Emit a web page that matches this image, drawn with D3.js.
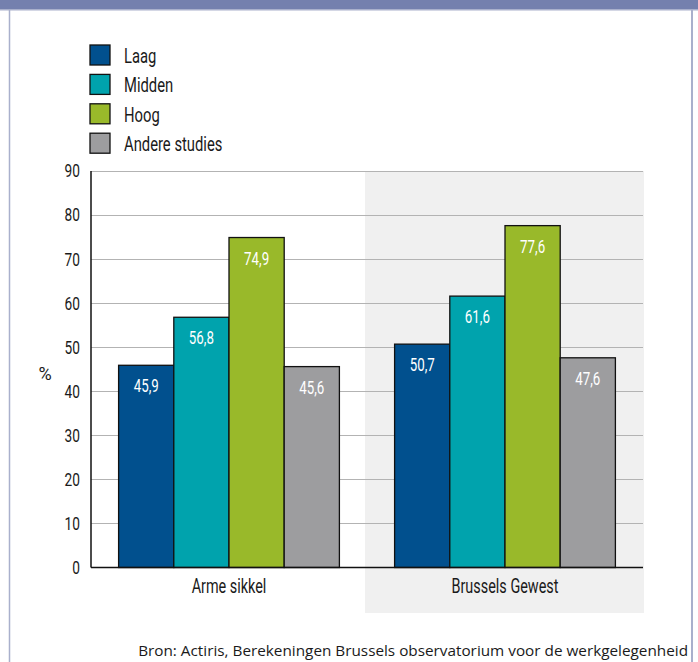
<!DOCTYPE html>
<html>
<head>
<meta charset="utf-8">
<script src="https://cdn.jsdelivr.net/npm/d3@7"></script>
<style>
  html, body { margin: 0; padding: 0; background: #fff; }
  svg { display: block; }
</style>
</head>
<body>
<script>
const categories = ["Arme sikkel", "Brussels Gewest"];
const seriesNames = ["Laag", "Midden", "Hoog", "Andere studies"];
const seriesColors = ["#01508e", "#00a3ad", "#99b92a", "#9d9d9f"];
const laag = [45.9, 50.7];
const midden = [56.8, 61.6];
const hoog = [74.9, 77.6];
const andere = [45.6, 47.6];
const yTicks = [0, 10, 20, 30, 40, 50, 60, 70, 80, 90];
const yLabel = "%";
const source = "Bron: Actiris, Berekeningen Brussels observatorium voor de werkgelegenheid";

(function () {
const seriesValues = [laag, midden, hoog, andere];
const W = 698, H = 662;
const FONT = "Roboto, 'Liberation Sans', sans-serif";
const SX = 0.74; // horizontal squeeze to mimic a condensed face

function squeeze(sel, sx) {
  const k = sx || SX;
  sel.each(function () {
    const t = d3.select(this);
    const x = +t.attr("x") || 0, yy = +t.attr("y") || 0;
    t.attr("x", null).attr("y", null)
      .attr("transform", `translate(${x},${yy}) scale(${k},1)`);
  });
}

const svg = d3.select("body").append("svg").attr("width", W).attr("height", H);

// frame
svg.append("rect").attr("x", 0).attr("y", 0).attr("width", W).attr("height", 9).attr("fill", "#7480ae");
svg.append("rect").attr("x", 0).attr("y", 9).attr("width", W).attr("height", 1.5).attr("fill", "#a9b0cc");
svg.append("line").attr("x1", 9.5).attr("x2", 9.5).attr("y1", 9).attr("y2", H).attr("stroke", "#a9b0cc").attr("stroke-width", 1.5);
svg.append("line").attr("x1", 692).attr("x2", 692).attr("y1", 9).attr("y2", H).attr("stroke", "#a9b0cc").attr("stroke-width", 2);

const pL = 91, pR = 643, pT = 171, pB = 567.5;
const y = d3.scaleLinear().domain([0, 90]).range([pB, pT]);
const x0 = d3.scaleBand().domain(categories).range([pL, pR]).padding(0);
const x1 = d3.scaleBand().domain(seriesNames)
  .range([x0.bandwidth() * 0.1, x0.bandwidth() * 0.9]).padding(0);

// shaded second category
svg.append("rect")
  .attr("x", x0(categories[1]) - 2).attr("y", pT)
  .attr("width", x0.bandwidth() + 3).attr("height", 613 - pT)
  .attr("fill", "#f0f0f0");

// gridlines
svg.append("g").selectAll("line").data(yTicks.filter(d => d > 0)).join("line")
  .attr("x1", pL).attr("x2", pR)
  .attr("y1", d => Math.round(y(d)) + 0.5).attr("y2", d => Math.round(y(d)) + 0.5)
  .attr("stroke", "#b3b3b3").attr("stroke-width", 1.2);

// bars
const groups = svg.append("g").selectAll("g").data(categories).join("g")
  .attr("transform", c => `translate(${x0(c)},0)`);
groups.each(function(c, ci) {
  const g = d3.select(this);
  seriesNames.forEach((s, si) => {
    const v = seriesValues[si][ci];
    g.append("rect")
      .attr("x", x1(s)).attr("y", y(v))
      .attr("width", x1.bandwidth()).attr("height", y(0) - y(v))
      .attr("fill", seriesColors[si]).attr("stroke", "#111").attr("stroke-width", 1.3);
    g.append("text")
      .attr("x", x1(s) + x1.bandwidth() / 2).attr("y", y(v) + 27)
      .attr("text-anchor", "middle").attr("fill", "#fff")
      .attr("font-family", FONT).attr("font-size", 18)
      .text(String(v).replace(".", ","))
      .call(squeeze);
  });
});

// axes
const yAxis = d3.axisLeft(y).tickValues(yTicks).tickSize(0).tickPadding(11);
const ya = svg.append("g").attr("transform", `translate(${pL},0)`).call(yAxis);
ya.select(".domain").remove();
ya.selectAll("text").attr("font-family", FONT).attr("font-size", 18.5).attr("fill", "#1a1a1a").call(squeeze);
svg.append("line").attr("x1", pL).attr("x2", pL).attr("y1", pT).attr("y2", pB)
  .attr("stroke", "#111").attr("stroke-width", 1.5);

const xAxis = d3.axisBottom(x0).tickSize(0).tickPadding(12);
const xa = svg.append("g").attr("transform", `translate(0,${pB})`).call(xAxis);
xa.select(".domain").remove();
xa.selectAll("text").attr("font-family", FONT).attr("font-size", 19.5).attr("fill", "#1a1a1a").call(squeeze);
svg.append("line").attr("x1", pL).attr("x2", pR).attr("y1", pB).attr("y2", pB)
  .attr("stroke", "#111").attr("stroke-width", 1.5);

svg.append("text").attr("x", 45).attr("y", 380).attr("text-anchor", "middle")
  .attr("font-family", FONT).attr("font-size", 19).attr("fill", "#1a1a1a").text(yLabel)
  .call(squeeze, 0.95);

// legend
const lg = svg.append("g").selectAll("g").data(seriesNames).join("g")
  .attr("transform", (d, i) => `translate(90,${45 + i * 29.4})`);
lg.append("rect").attr("width", 20).attr("height", 20)
  .attr("fill", (d, i) => seriesColors[i]).attr("stroke", "#111").attr("stroke-width", 1.3);
lg.append("text").attr("x", 34).attr("y", 18)
  .attr("font-family", FONT).attr("font-size", 20).attr("fill", "#1a1a1a").text(d => d)
  .call(squeeze);

// source
svg.append("text").attr("x", 688).attr("y", 656).attr("text-anchor", "end")
  .attr("font-family", "'Open Sans', 'Noto Sans', sans-serif").attr("font-size", 15.3)
  .attr("fill", "#1a1a1a").text(source);
})();
</script>
</body>
</html>
